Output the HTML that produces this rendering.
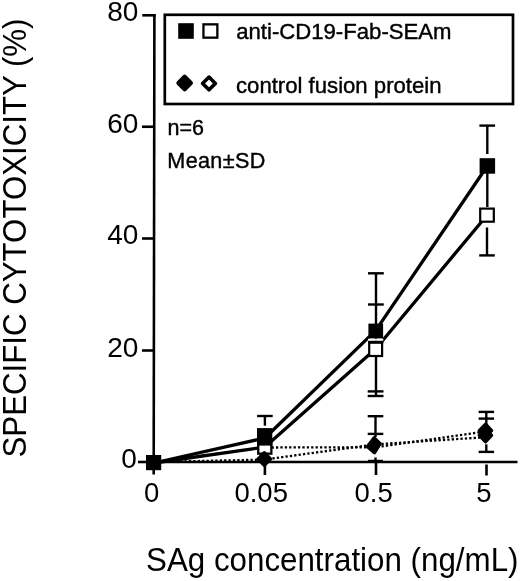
<!DOCTYPE html>
<html><head><meta charset="utf-8">
<style>
html,body{margin:0;padding:0;background:#fff;width:520px;height:581px;overflow:hidden}
svg{display:block;transform:translateZ(0);will-change:transform}
text{font-family:"Liberation Sans",sans-serif;fill:#000}
.b text,text.b{stroke:#000;stroke-width:0.4px}
</style></head>
<body>
<svg width="520" height="581" viewBox="0 0 520 581">
<rect width="520" height="581" fill="#fff"/>
<!-- axes -->
<g stroke="#000" stroke-width="2.6" fill="none">
  <line x1="154.4" y1="14" x2="153.7" y2="463.3"/>
  <line x1="152.7" y1="462" x2="517.5" y2="462"/>
  <line x1="142.3" y1="15.3" x2="155.6" y2="15.3"/>
  <line x1="142" y1="126.75" x2="155" y2="126.75"/>
  <line x1="142" y1="238.5" x2="155" y2="238.5"/>
  <line x1="142" y1="350.5" x2="155" y2="350.5"/>
  <line x1="138" y1="462" x2="155" y2="462"/>
  <line x1="153.7" y1="462" x2="153.7" y2="474.5"/>
  <line x1="264.9" y1="462" x2="264.9" y2="475"/>
  <line x1="376" y1="462" x2="376" y2="475"/>
  <line x1="486.5" y1="464.5" x2="486.5" y2="475.5"/>
</g>
<!-- y labels -->
<g font-size="28" text-anchor="end">
  <text x="138.3" y="21">80</text>
  <text x="138.3" y="132.5">60</text>
  <text x="138.3" y="244.3">40</text>
  <text x="138.3" y="356.5">20</text>
  <text x="136.8" y="467.8">0</text>
</g>
<!-- x labels -->
<g font-size="27.5" text-anchor="middle">
  <text x="151.7" y="501.5">0</text>
  <text x="261.2" y="501.8">0.05</text>
  <text x="373.6" y="501.8">0.5</text>
  <text x="484" y="501.8">5</text>
</g>
<!-- titles -->
<text x="146" y="571.2" font-size="33.5" textLength="372.5" lengthAdjust="spacingAndGlyphs">SAg concentration (ng/mL)</text>
<text transform="translate(26.2 457.5) rotate(-90)" x="0" y="0" font-size="34" textLength="439" lengthAdjust="spacingAndGlyphs">SPECIFIC CYTOTOXICITY (%)</text>

<!-- legend -->
<rect x="164.8" y="14.8" width="348.2" height="89.2" fill="none" stroke="#000" stroke-width="2.7"/>
<rect x="178.2" y="23.2" width="15.6" height="15.6" fill="#000"/>
<rect x="203.45" y="24.35" width="13.9" height="13.3" fill="none" stroke="#000" stroke-width="2.3"/>
<path d="M184.65 76.9 L190.8 83.05 L184.65 89.2 L178.5 83.05 Z" fill="#000" stroke="#000" stroke-width="4.4" stroke-linejoin="round"/>
<path d="M209 77.05 L215.4 83.45 L209 89.85 L202.6 83.45 Z" fill="#fff" stroke="#000" stroke-width="3.6" stroke-linejoin="round"/>
<g font-size="22" class="b">
  <text x="236.2" y="39.3" font-size="22.15">anti-CD19-Fab-SEAm</text>
  <text x="236" y="92.7" font-size="22.15">control fusion protein</text>
  <text x="167.5" y="135.2" font-size="21.5">n=6</text>
  <text x="167.3" y="167.8" font-size="21.6" textLength="98" lengthAdjust="spacing">Mean±SD</text>
</g>

<!-- error bars -->
<g stroke="#000" stroke-width="2.4" fill="none">
  <!-- 0.05 -->
  <line x1="264.9" y1="416" x2="264.9" y2="425.7"/>
  <line x1="257.1" y1="416" x2="272.7" y2="416"/>
  <!-- 0.5 squares -->
  <line x1="376" y1="273.3" x2="376" y2="396"/>
  <line x1="368" y1="273.3" x2="383.8" y2="273.3"/>
  <line x1="368" y1="304.5" x2="383.8" y2="304.5"/>
  <line x1="367.7" y1="391.4" x2="383.5" y2="391.4"/>
  <line x1="367.7" y1="396" x2="383.5" y2="396"/>
  <!-- 5 squares -->
  <line x1="487.3" y1="125.6" x2="487.3" y2="154"/>
  <line x1="479.4" y1="125.6" x2="495.1" y2="125.6"/>
  <line x1="487.3" y1="173" x2="487.3" y2="207"/>
  <line x1="487" y1="227.5" x2="487" y2="255.4"/>
  <line x1="479.2" y1="255.4" x2="494.8" y2="255.4"/>
  <!-- 0.5 diamonds -->
  <line x1="375.5" y1="416.2" x2="375.5" y2="437"/>
  <line x1="375.5" y1="457.5" x2="375.5" y2="462"/>
  <line x1="367.7" y1="416.2" x2="383.3" y2="416.2"/>
  <line x1="367.7" y1="433.9" x2="383.3" y2="433.9"/>
  <line x1="368" y1="461" x2="383" y2="461"/>
  <!-- 5 diamonds -->
  <line x1="486.3" y1="411.9" x2="486.3" y2="424"/>
  <line x1="486.3" y1="444.3" x2="486.3" y2="452"/>
  <line x1="478.6" y1="411.9" x2="494.1" y2="411.9"/>
  <line x1="478.6" y1="418.6" x2="494.1" y2="418.6"/>
  <line x1="478.6" y1="451.9" x2="494.1" y2="451.9"/>
</g>

<!-- dotted series -->
<g stroke="#000" stroke-width="2.3" fill="none" stroke-dasharray="2.3 2.1">
  <polyline points="153.7,462 264.3,459.6 375,444.4 485.6,437.2"/>
  <polyline points="153.7,462 264.9,447.5 375,447.3 485.6,431.5"/>
</g>
<!-- solid series -->
<g stroke="#000" stroke-width="3.3" fill="none" stroke-linejoin="round">
  <polyline points="153.7,463 264.9,438 375.8,330.4 487.3,166"/>
  <polyline points="153.7,463 264.9,447.1 375.8,348.7 487,215.2"/>
</g>

<!-- open squares -->
<rect x="258.25" y="440.55" width="13.1" height="13.1" fill="#fff" stroke="#000" stroke-width="2.3"/>
<rect x="369.2" y="342.6" width="12.9" height="13.4" fill="#fff" stroke="#000" stroke-width="2.2"/>
<rect x="368.1" y="338.6" width="15.2" height="2.2" fill="#fff"/>
<rect x="368.1" y="340.8" width="15.2" height="2.6" fill="#000"/>
<rect x="480.2" y="208.6" width="13.6" height="13.1" fill="#fff" stroke="#000" stroke-width="2.2"/>
<!-- markers: diamonds -->
<g fill="#000" stroke="#000" stroke-width="3.4" stroke-linejoin="round">
<path d="M264.3 452.8 L270.5 459 L264.3 465.2 L258.1 459 Z"/>
<path d="M374.2 437.9 L380.1 443.6 L374.5 452.6 L367.5 446.6 Z"/>
<path d="M485.6 424.2 L491.5 430.6 L485.6 437 L479.3 430.6 Z"/>
<path d="M485.6 429 L491.5 435.3 L485.6 441.7 L479.3 435.3 Z"/>
</g>
<!-- filled squares -->
<rect x="146" y="455" width="15.2" height="15.2" fill="#000"/>
<rect x="257" y="428.1" width="15.3" height="17.5" fill="#000"/>
<rect x="368.4" y="323.6" width="14.7" height="14.8" fill="#000"/>
<rect x="479.6" y="158.2" width="15.5" height="15.5" fill="#000"/>
</svg>
</body></html>
